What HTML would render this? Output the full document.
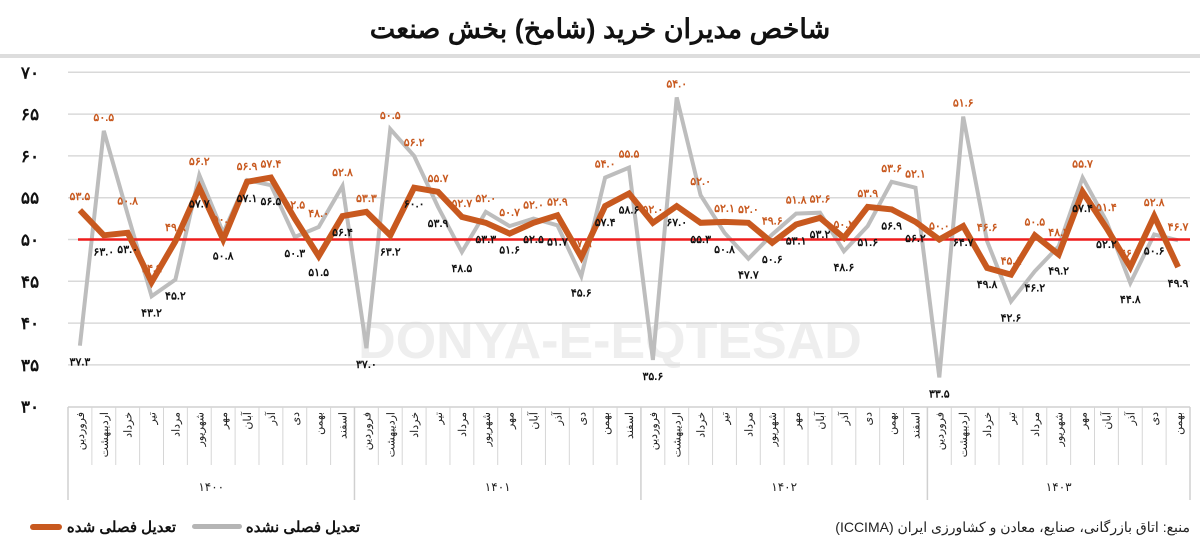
<!DOCTYPE html>
<html><head><meta charset="utf-8">
<style>
html,body{margin:0;padding:0;background:#fff;}
body{width:1200px;height:547px;overflow:hidden;font-family:"Liberation Sans","Noto Sans CJK SC",sans-serif;}
</style></head>
<body>
<svg id="chart" width="1200" height="547" viewBox="0 0 1200 547" xmlns="http://www.w3.org/2000/svg" font-family="'Liberation Sans','Noto Sans CJK SC',sans-serif">
  <text x="600" y="38" text-anchor="middle" font-size="27" font-weight="bold" fill="#111">شاخص مدیران خرید (شامخ) بخش صنعت</text>
  <rect x="0" y="54" width="1200" height="4" fill="#ddd"/>
  <text x="610" y="358" text-anchor="middle" font-size="52" font-weight="bold" fill="#eeeeee">DONYA-E-EQTESAD</text>
  <g id="grid"></g>
  <g id="xaxis"></g>
  <g id="series"></g>
  <g id="labels"></g>
  <g>
    <rect x="30" y="524" width="32" height="6" rx="3" fill="#c8591f"/>
    <text x="176" y="532" text-anchor="end" font-size="15" font-weight="bold" fill="#111">تعدیل فصلی شده</text>
    <rect x="192" y="524" width="50" height="5" rx="2.5" fill="#b5b5b5"/>
    <text x="360" y="532" text-anchor="end" font-size="15" font-weight="bold" fill="#111">تعدیل فصلی نشده</text>
  </g>
  <text x="1190" y="532" text-anchor="start" direction="rtl" font-size="14" fill="#222">منبع: اتاق بازرگانی، صنایع، معادن و کشاورزی ایران (ICCIMA)</text>
</svg>
<script>
const months = ["فروردین","اردیبهشت","خرداد","تیر","مرداد","شهریور","مهر","آبان","آذر","دی","بهمن","اسفند"];
const years = ["۱۴۰۰","۱۴۰۱","۱۴۰۲","۱۴۰۳"];
const yearLengths = [12,12,12,11];
const yTicks = [30,35,40,45,50,55,60,65,70];
const adjusted = [53.5,50.5,50.8,44.9,49.8,56.2,50.0,56.9,57.4,52.5,48.0,52.8,53.3,
  50.5,56.2,55.7,52.7,52.0,50.7,52.0,52.9,47.9,54.0,55.5,52.0,
  54.0,52.0,52.1,52.0,49.6,51.8,52.6,50.2,53.9,53.6,52.1,
  50.0,51.6,46.6,45.8,50.5,48.2,55.7,51.4,46.7,52.8,46.7];
const unadjusted = [37.3,63.0,53.0,43.2,45.2,57.7,50.8,57.1,56.5,50.3,51.5,56.4,37.0,
  63.2,60.0,53.9,48.5,53.3,51.6,52.5,51.7,45.6,57.4,58.6,35.6,
  67.0,55.3,50.8,47.7,50.6,53.1,53.2,48.6,51.6,56.9,56.2,
  33.5,64.7,49.8,42.6,46.2,49.2,57.4,52.2,44.8,50.6,49.9];
const threshold = 50;

const NS="http://www.w3.org/2000/svg";
const fa = s => String(s).replace(/\d/g,d=>"۰۱۲۳۴۵۶۷۸۹"[d]);
function el(tag, attrs, parent){const e=document.createElementNS(NS,tag);for(const k in attrs)e.setAttribute(k,attrs[k]);parent.appendChild(e);return e;}
const X0=68, X1=1190, Y70=72.3, Y30=406.7;
const N = adjusted.length;
const step = (X1-X0)/N;
const xs = i => X0 + step*(i+0.5);
const ys = v => Y30 - (v-30)*(Y30-Y70)/40;

const grid=document.getElementById('grid');
yTicks.forEach(t=>{
  if(t>30){
    const l=el('line',{x1:X0,x2:X1,y1:ys(t),y2:ys(t),stroke:'#d9d9d9','stroke-width':1.5},grid);
    
    
  }
  const tx=el('text',{x:30,y:ys(t)+6,'text-anchor':'middle','font-size':17,'font-weight':'bold',fill:'#111'},grid);
  tx.textContent=fa(t);
  
  
});

const xa=document.getElementById('xaxis');
const AX_TOP=407, MON_BOT=465, AX_BOT=500;
const axisLine=el('line',{x1:X0,x2:X1,y1:AX_TOP,y2:AX_TOP,stroke:'#d0d0d0','stroke-width':1.5},xa);


let idx=0;
years.forEach((yr,yi)=>{
  const start=idx;
  for(let m=0;m<yearLengths[yi];m++){
    const cx=xs(idx);
    const t=el('text',{x:0,y:0,'font-size':11,fill:'#222','text-anchor':'end',transform:`translate(${cx+4},${AX_TOP+5}) rotate(-90)`},xa);
    t.textContent=months[m];
    
    
    if(m>0){
      const d=el('line',{x1:X0+step*idx,x2:X0+step*idx,y1:AX_TOP,y2:MON_BOT,stroke:'#d6d6d6','stroke-width':1},xa);
      
      
    }
    idx++;
  }
  const sx=X0+step*start;
  const s=el('line',{x1:sx,x2:sx,y1:AX_TOP,y2:AX_BOT,stroke:'#d0d0d0','stroke-width':1.5},xa);
  
  
  const yt=el('text',{x:(sx+X0+step*idx)/2,y:491,'text-anchor':'middle','font-size':12,fill:'#222'},xa);
  yt.textContent=yr;
  
  
});
const endL=el('line',{x1:X1,x2:X1,y1:AX_TOP,y2:AX_BOT,stroke:'#d0d0d0','stroke-width':1.5},xa);



const ser=document.getElementById('series');
const pts=arr=>arr.map((v,i)=>xs(i).toFixed(1)+','+ys(v).toFixed(1)).join(' ');
const g=el('polyline',{points:pts(unadjusted),fill:'none',stroke:'#bdbdbd','stroke-width':4,'stroke-linejoin':'miter'},ser);


const th=el('line',{x1:78,x2:X1,y1:ys(threshold),y2:ys(threshold),stroke:'#ee1c1c','stroke-width':2.5},ser);


const o=el('polyline',{points:pts(adjusted),fill:'none',stroke:'#c8591f','stroke-width':6,'stroke-linejoin':'miter'},ser);



const lab=document.getElementById('labels');
adjusted.forEach((v,i)=>{
  const t=el('text',{x:xs(i),y:ys(Math.max(v,unadjusted[i]))-10,'text-anchor':'middle','font-size':11,'font-weight':'bold',fill:'#c8591f'},lab);
  t.textContent=fa(v.toFixed(1));
  
  
});
unadjusted.forEach((v,i)=>{
  const t=el('text',{x:xs(i),y:ys(Math.min(v,adjusted[i]))+20,'text-anchor':'middle','font-size':11,'font-weight':'bold',fill:'#111'},lab);
  t.textContent=fa(v.toFixed(1));
  
  
});
</script>
</body></html>
